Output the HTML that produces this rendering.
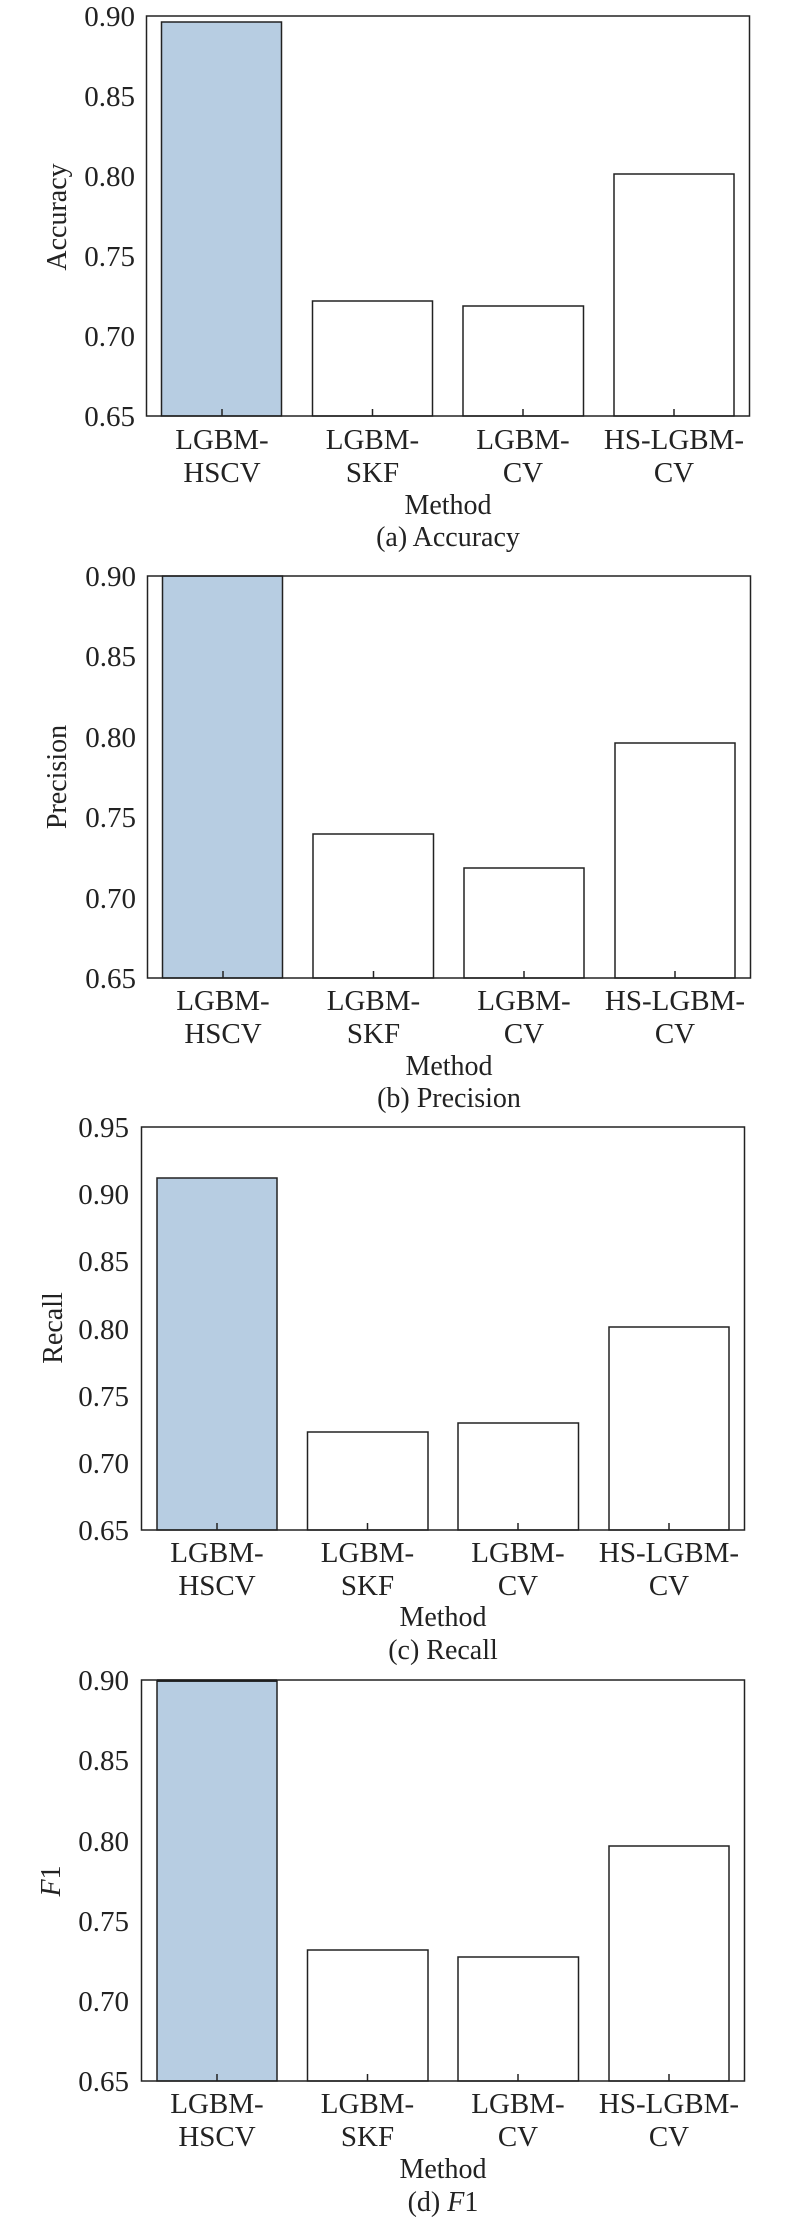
<!DOCTYPE html>
<html><head><meta charset="utf-8"><style>
html,body{margin:0;padding:0;background:#fff;}
svg{display:block;font-family:"Liberation Serif",serif;}
text{fill:#222;}
</style></head><body>
<svg width="800" height="2222" viewBox="0 0 800 2222" xmlns="http://www.w3.org/2000/svg">
<g id="a">
<rect x="161.5" y="22" width="120" height="394" fill="#b7cde2" stroke="#222" stroke-width="1.5"/>
<rect x="312.5" y="301" width="120" height="115" fill="#fff" stroke="#222" stroke-width="1.5"/>
<rect x="463" y="306" width="120.5" height="110" fill="#fff" stroke="#222" stroke-width="1.5"/>
<rect x="614" y="174" width="120" height="242" fill="#fff" stroke="#222" stroke-width="1.5"/>
<rect x="146.5" y="16" width="603" height="400" fill="none" stroke="#222" stroke-width="1.5"/>
<g stroke="#222" stroke-width="1.5"><line x1="222" y1="416" x2="222" y2="409"/><line x1="372.5" y1="416" x2="372.5" y2="409"/><line x1="523" y1="416" x2="523" y2="409"/><line x1="674" y1="416" x2="674" y2="409"/></g>
<g font-size="29" text-anchor="end"><text x="135" y="26">0.90</text><text x="135" y="106">0.85</text><text x="135" y="186">0.80</text><text x="135" y="266">0.75</text><text x="135" y="346">0.70</text><text x="135" y="426">0.65</text></g>
<g font-size="29" text-anchor="middle"><text x="222" y="449">LGBM-</text><text x="222" y="482">HSCV</text><text x="372.5" y="449">LGBM-</text><text x="372.5" y="482">SKF</text><text x="523" y="449">LGBM-</text><text x="523" y="482">CV</text><text x="674" y="449">HS-LGBM-</text><text x="674" y="482">CV</text>
<text x="448" y="514" font-size="28">Method</text><text x="448" y="546" font-size="28">(a) Accuracy</text></g>
<text transform="translate(66,217) rotate(-90)" font-size="28" text-anchor="middle">Accuracy</text>
</g>

<g>
<rect x="162.5" y="576" width="120" height="402" fill="#b7cde2" stroke="#222" stroke-width="1.5"/>
<rect x="313" y="834" width="120.5" height="144" fill="#fff" stroke="#222" stroke-width="1.5"/>
<rect x="464" y="868" width="120" height="110" fill="#fff" stroke="#222" stroke-width="1.5"/>
<rect x="615" y="743" width="120" height="235" fill="#fff" stroke="#222" stroke-width="1.5"/>
<rect x="147.5" y="576" width="603" height="402" fill="none" stroke="#222" stroke-width="1.5"/>
<g stroke="#222" stroke-width="1.5"><line x1="223" y1="978" x2="223" y2="971"/><line x1="373.5" y1="978" x2="373.5" y2="971"/><line x1="524" y1="978" x2="524" y2="971"/><line x1="675" y1="978" x2="675" y2="971"/></g>
<g font-size="29" text-anchor="end"><text x="136" y="586">0.90</text><text x="136" y="666">0.85</text><text x="136" y="747">0.80</text><text x="136" y="827">0.75</text><text x="136" y="908">0.70</text><text x="136" y="988">0.65</text></g>
<g font-size="29" text-anchor="middle"><text x="223" y="1010">LGBM-</text><text x="223" y="1043">HSCV</text><text x="373.5" y="1010">LGBM-</text><text x="373.5" y="1043">SKF</text><text x="524" y="1010">LGBM-</text><text x="524" y="1043">CV</text><text x="675" y="1010">HS-LGBM-</text><text x="675" y="1043">CV</text>
<text x="449" y="1075" font-size="28">Method</text><text x="449" y="1107" font-size="28">(b) Precision</text></g>
<text transform="translate(66,777) rotate(-90)" font-size="28" text-anchor="middle">Precision</text>
</g>

<g>
<rect x="157" y="1178" width="120" height="352" fill="#b7cde2" stroke="#222" stroke-width="1.5"/>
<rect x="307.5" y="1432" width="120.5" height="98" fill="#fff" stroke="#222" stroke-width="1.5"/>
<rect x="458" y="1423" width="120.5" height="107" fill="#fff" stroke="#222" stroke-width="1.5"/>
<rect x="609" y="1327" width="120" height="203" fill="#fff" stroke="#222" stroke-width="1.5"/>
<rect x="141.5" y="1127" width="603" height="403" fill="none" stroke="#222" stroke-width="1.5"/>
<g stroke="#222" stroke-width="1.5"><line x1="217" y1="1530" x2="217" y2="1523"/><line x1="367.5" y1="1530" x2="367.5" y2="1523"/><line x1="518" y1="1530" x2="518" y2="1523"/><line x1="669" y1="1530" x2="669" y2="1523"/></g>
<g font-size="29" text-anchor="end"><text x="129" y="1137">0.95</text><text x="129" y="1204">0.90</text><text x="129" y="1271">0.85</text><text x="129" y="1339">0.80</text><text x="129" y="1406">0.75</text><text x="129" y="1473">0.70</text><text x="129" y="1540">0.65</text></g>
<g font-size="29" text-anchor="middle"><text x="217" y="1562">LGBM-</text><text x="217" y="1595">HSCV</text><text x="367.5" y="1562">LGBM-</text><text x="367.5" y="1595">SKF</text><text x="518" y="1562">LGBM-</text><text x="518" y="1595">CV</text><text x="669" y="1562">HS-LGBM-</text><text x="669" y="1595">CV</text>
<text x="443" y="1626" font-size="28">Method</text><text x="443" y="1659" font-size="28">(c) Recall</text></g>
<text transform="translate(62,1328) rotate(-90)" font-size="28" text-anchor="middle">Recall</text>
</g>

<g>
<rect x="157" y="1681" width="120" height="400" fill="#b7cde2" stroke="#222" stroke-width="1.5"/>
<line x1="157" y1="1680.5" x2="277" y2="1680.5" stroke="#111" stroke-width="2.5"/>
<rect x="307.5" y="1950" width="120.5" height="131" fill="#fff" stroke="#222" stroke-width="1.5"/>
<rect x="458" y="1957" width="120.5" height="124" fill="#fff" stroke="#222" stroke-width="1.5"/>
<rect x="609" y="1846" width="120" height="235" fill="#fff" stroke="#222" stroke-width="1.5"/>
<rect x="141.5" y="1680" width="603" height="401" fill="none" stroke="#222" stroke-width="1.5"/>
<g stroke="#222" stroke-width="1.5"><line x1="217" y1="2081" x2="217" y2="2074"/><line x1="367.5" y1="2081" x2="367.5" y2="2074"/><line x1="518" y1="2081" x2="518" y2="2074"/><line x1="669" y1="2081" x2="669" y2="2074"/></g>
<g font-size="29" text-anchor="end"><text x="129" y="1690">0.90</text><text x="129" y="1770">0.85</text><text x="129" y="1851">0.80</text><text x="129" y="1931">0.75</text><text x="129" y="2011">0.70</text><text x="129" y="2091">0.65</text></g>
<g font-size="29" text-anchor="middle"><text x="217" y="2113">LGBM-</text><text x="217" y="2146">HSCV</text><text x="367.5" y="2113">LGBM-</text><text x="367.5" y="2146">SKF</text><text x="518" y="2113">LGBM-</text><text x="518" y="2146">CV</text><text x="669" y="2113">HS-LGBM-</text><text x="669" y="2146">CV</text>
<text x="443" y="2178" font-size="28">Method</text><text x="443" y="2211" font-size="28">(d) <tspan font-style="italic">F</tspan>1</text></g>
<text transform="translate(60,1881) rotate(-90)" font-size="28" text-anchor="middle"><tspan font-style="italic">F</tspan>1</text>
</g>
</svg>
</body></html>
